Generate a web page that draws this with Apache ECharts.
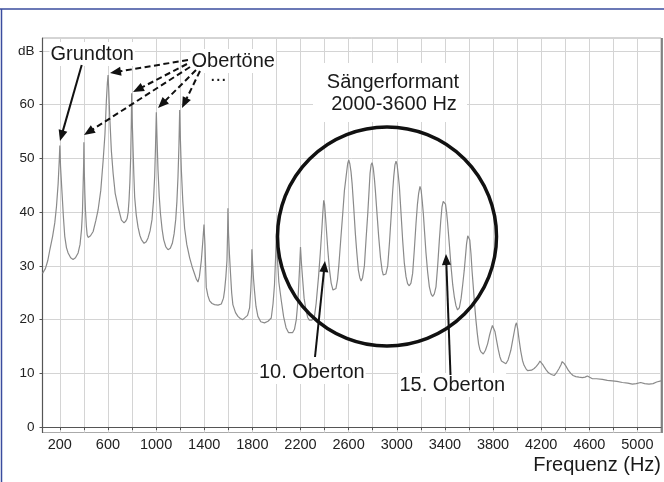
<!DOCTYPE html>
<html><head><meta charset="utf-8">
<script src="https://cdn.jsdelivr.net/npm/echarts@6/dist/echarts.min.js"></script>
<style>html,body{margin:0;padding:0;background:#fff}#c{width:664px;height:482px}</style>
</head><body><div id="c"></div>
<script>
// Frequency (Hz) of each sample of the spectrum curve
const freqHz = [
  56,80,100,117,140,158,172,186,195,200,206,217,230,241,255,269,290,310,330,352,368,380,388,394,398,400,403,408,413,420,427,435,455,477,500,518,540,560,575,587,595,601,607,615,628,643,660,684,712,734,750,759,768,775,782,789,794,797,801,809,815,822,835,850,865,878,900,918,933,950,966,978,988,995,1002,1008,1016,1026,1036,1050,1063,1080,1099,1118,1135,1150,1163,1173,1182,1190,1196,1202,1210,1222,1237,1255,1279,1300,1320,1335,1348,1360,1376,1388,1398,1406,1417,1430,1445,1465,1486,1515,1542,1560,1569,1580,1589,1594,1597,1602,1610,1619,1628,1638,1660,1680,1700,1720,1735,1760,1777,1787,1793,1796,1802,1810,1818,1830,1846,1870,1901,1930,1957,1972,1984,1993,2000,2008,2020,2040,2060,2080,2100,2115,2135,2150,2165,2175,2183,2192,2200,2208,2219,2230,2247,2260,2274,2295,2316,2330,2350,2365,2378,2386,2393,2400,2410,2427,2440,2455,2470,2482,2495,2508,2518,2535,2551,2565,2579,2592,2601,2610,2620,2629,2642,2656,2668,2681,2693,2704,2716,2731,2745,2759,2770,2778,2787,2795,2805,2815,2822,2835,2850,2865,2878,2888,2897,2910,2925,2940,2953,2965,2975,2985,2994,3003,3012,3022,3035,3049,3063,3077,3090,3104,3118,3132,3146,3160,3172,3182,3193,3203,3212,3221,3232,3243,3257,3271,3285,3298,3312,3326,3340,3354,3366,3376,3386,3395,3405,3414,3423,3437,3451,3465,3478,3492,3505,3520,3535,3548,3561,3572,3580,3590,3597,3607,3617,3626,3636,3647,3658,3669,3680,3690,3700,3719,3737,3755,3770,3782,3795,3804,3816,3829,3843,3857,3870,3885,3907,3925,3938,3948,3962,3976,3987,3995,4005,4017,4030,4045,4058,4073,4087,4100,4120,4142,4160,4178,4190,4197,4205,4215,4225,4240,4261,4285,4308,4330,4349,4365,4375,4383,4392,4400,4410,4425,4446,4465,4488,4515,4543,4565,4584,4600,4626,4660,4709,4750,4792,4830,4875,4920,4958,4990,5027,5060,5096,5130,5160,5196
];
// Level (dB) of each sample
const levelDb = [
  28.6,29.5,31.0,33.0,35.5,38.0,41.0,45.3,49.5,52.4,48.5,44.1,39.0,35.5,33.4,32.4,31.5,31.2,31.5,32.4,34.0,36.7,40.0,45.3,49.0,53.0,48.0,43.5,40.4,37.5,35.8,35.3,35.6,36.4,38.5,40.4,44.0,49.6,54.5,60.8,64.0,65.5,62.5,57.7,51.5,47.2,43.5,41.0,38.5,38.0,38.4,38.8,40.0,42.2,45.5,50.3,56.5,62.1,57.5,51.5,47.0,42.8,39.5,37.2,35.7,34.9,34.2,34.5,35.2,36.5,38.6,42.0,46.6,52.0,58.6,53.5,47.8,43.0,39.8,36.8,34.9,33.6,33.0,33.3,34.2,36.0,38.6,42.0,46.6,52.5,59.0,53.5,47.8,42.0,37.0,34.0,31.5,29.8,28.5,27.5,27.0,28.0,31.0,34.5,37.7,34.0,26.0,24.5,23.5,23.0,22.8,22.7,22.9,24.0,25.4,28.0,31.0,36.0,40.7,36.0,32.0,28.4,25.0,22.8,21.3,20.6,20.2,20.0,20.0,20.8,22.2,25.5,28.5,33.1,30.5,27.5,25.3,22.5,20.6,19.6,19.4,19.7,20.3,23.0,26.5,31.5,36.0,31.5,27.0,23.6,20.5,18.5,17.6,17.4,17.6,18.2,20.0,22.5,25.4,29.5,33.5,30.5,27.2,24.0,21.6,20.4,19.9,19.9,20.6,23.0,28.0,32.5,37.0,40.0,42.2,41.5,38.5,33.0,29.5,26.8,25.5,25.2,25.8,27.5,29.9,35.0,39.7,44.0,46.6,49.0,49.7,49.0,47.5,45.3,41.0,36.0,32.5,29.2,27.8,27.2,27.8,30.0,35.0,39.7,44.0,47.2,48.8,49.2,48.2,46.0,44.1,40.0,35.4,31.5,29.2,28.3,28.1,28.5,30.0,34.5,39.1,43.5,46.6,48.8,49.5,48.8,47.0,44.7,40.0,34.8,30.5,28.0,26.7,26.3,26.8,28.6,33.0,37.9,41.5,43.5,44.8,44.0,42.0,39.7,36.0,32.4,28.8,26.1,24.8,24.3,24.8,26.1,30.0,34.8,38.5,41.0,42.0,42.2,41.5,40.0,37.9,34.0,29.9,26.5,24.3,22.6,21.8,22.2,24.0,26.5,29.2,32.0,34.1,35.6,35.9,34.8,32.2,29.0,26.1,22.8,19.9,17.5,15.5,14.5,14.0,13.6,14.3,15.5,17.0,18.0,18.9,19.0,17.8,16.2,14.5,13.1,12.3,12.0,11.8,12.5,13.5,14.3,16.0,17.7,19.0,19.4,18.3,16.2,14.2,12.4,11.5,10.9,10.5,10.4,10.6,10.9,11.3,11.8,12.3,12.4,12.0,11.6,11.2,10.7,10.1,9.8,9.6,10.2,10.9,11.6,12.2,12.1,11.8,11.6,11.2,10.6,10.0,9.6,9.4,9.3,9.2,9.3,9.5,9.2,9.0,9.0,8.9,8.7,8.6,8.5,8.3,8.2,8.0,8.1,8.3,8.1,8.0,8.1,8.4,8.6
];
// Axis ticks and labels
const xTickValues = [200,400,600,800,1000,1200,1400,1600,1800,2000,2200,2400,2600,2800,3000,3200,3400,3600,3800,4000,4200,4400,4600,4800,5000];
const xLabelValues = [200,600,1000,1400,1800,2200,2600,3000,3400,3800,4200,4600,5000];
const yTickValues = [0,10,20,30,40,50,60,70];
const yUnitLabel = 'dB';
const xAxisTitle = 'Frequenz (Hz)';
// Annotation texts
const noteGrundton = 'Grundton';
const noteObertoene = 'Obertöne';
const noteFormant = ['Sängerformant', '2000-3600 Hz'];
const note10 = '10. Oberton';
const note15 = '15. Oberton';

const FONT = '"Liberation Sans", Arial, sans-serif';
const seriesData = freqHz.map((f, i) => [f, levelDb[i]]);

function arrow(x1, y1, x2, y2, dashed) {
  const dx = x2 - x1, dy = y2 - y1, L = Math.hypot(dx, dy);
  const ux = dx / L, uy = dy / L, hl = 11, hw = 4.5;
  const bx = x2 - ux * hl, by = y2 - uy * hl;
  return [
    {type: 'line', z: 20, shape: {x1: x1, y1: y1, x2: bx + ux * 1, y2: by + uy * 1},
     style: {stroke: '#111', lineWidth: 2, lineDash: dashed ? [6, 3.5] : null}},
    {type: 'polygon', z: 20, shape: {points: [[x2, y2], [bx - uy * hw, by + ux * hw], [bx + uy * hw, by - ux * hw]]},
     style: {fill: '#111'}}
  ];
}
function label(text, x, y, align, bg) {
  const st = {text: text, x: x, y: y, font: '20px ' + FONT, fill: '#1a1a1a',
    align: align, verticalAlign: 'middle', textAlign: align, textVerticalAlign: 'middle'};
  if (bg) { st.backgroundColor = '#fff'; st.padding = [2, 1]; }
  return {type: 'text', z: 15, style: st};
}

const chart = echarts.init(document.getElementById('c'), null, {renderer: 'canvas'});
const graphics = [
  // outer frame
  {type: 'line', z: 20, shape: {x1: 0, y1: 9, x2: 664, y2: 9}, style: {stroke: '#3a4c9e', lineWidth: 1.5}},
  {type: 'line', z: 20, shape: {x1: 1.5, y1: 9, x2: 1.5, y2: 482}, style: {stroke: '#3a4c9e', lineWidth: 1.5}},
  // right plot border
  {type: 'line', z: 20, shape: {x1: 662, y1: 38, x2: 662, y2: 433}, style: {stroke: '#666', lineWidth: 1.5}},
  // formant box background
  {type: 'rect', z: 12, shape: {x: 313, y: 63, width: 154, height: 59}, style: {fill: '#fff'}},
  label(noteFormant[0], 393, 82, 'center', false),
  label(noteFormant[1], 394, 104.5, 'center', false),
  {type: 'circle', z: 18, shape: {cx: 387, cy: 236.5, r: 109.5}, style: {fill: 'transparent', stroke: '#111', lineWidth: 3.5}},
  label(noteGrundton, 49.5, 54, 'left', true),
  label(noteObertoene, 190.5, 61, 'left', true),
  label('...', 210, 75, 'left', false),
  label(note10, 258, 372, 'left', true),
  label(note15, 398.5, 385, 'left', true)
].concat(
  arrow(81.7, 65, 60, 141, false),
  arrow(188, 60, 110, 73, true),
  arrow(187, 64, 133, 92, true),
  arrow(190, 67, 84, 135, true),
  arrow(196, 70, 158, 108, true),
  arrow(200, 71, 182, 108, true),
  arrow(315, 357, 325, 261, false),
  arrow(450.5, 375, 446, 254, false)
);

chart.setOption({
  animation: false,
  backgroundColor: '#fff',
  grid: {left: 42.5, right: 2, top: 38, bottom: 49.5, show: true, borderColor: '#aaa', borderWidth: 1, containLabel: false},
  xAxis: {
    type: 'value', min: 56, max: 5196,
    name: xAxisTitle, nameLocation: 'end', nameGap: 0,
    nameTextStyle: {fontSize: 20, fontFamily: FONT, color: '#1a1a1a', align: 'right', verticalAlign: 'top', padding: [28, 0, 0, 0]},
    axisLine: {show: true, lineStyle: {color: '#555', width: 1.2}},
    axisTick: {show: true, customValues: xTickValues, length: 3, lineStyle: {color: '#555'}},
    axisLabel: {customValues: xLabelValues, fontSize: 14.5, fontFamily: FONT, color: '#222', margin: 5,
      formatter: v => String(v)},
    splitLine: {show: true, lineStyle: {color: '#d4d4d4', width: 1}}
  },
  yAxis: {
    type: 'value', min: -1, max: 72.4,
    axisLine: {show: true, lineStyle: {color: '#555', width: 1.2}},
    axisTick: {show: true, customValues: yTickValues, length: 3, lineStyle: {color: '#555'}},
    axisLabel: {customValues: yTickValues, fontSize: 13.5, fontFamily: FONT, color: '#222', margin: 8,
      formatter: v => (v === 70 ? yUnitLabel : String(v))},
    splitLine: {show: true, lineStyle: {color: '#d4d4d4', width: 1}}
  },
  series: [{
    type: 'line', data: seriesData, showSymbol: false, symbol: 'none', smooth: false, z: 5,
    lineStyle: {color: '#8a8a8a', width: 1.2}
  }],
  graphic: {elements: graphics}
});
</script>
</body></html>
